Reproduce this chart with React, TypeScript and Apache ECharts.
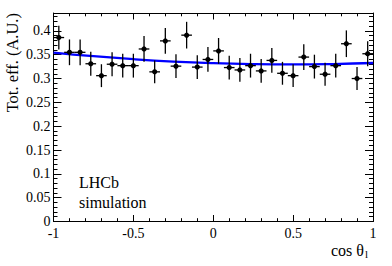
import React, { useEffect, useRef } from "react";
import * as echarts from "echarts";

// Bin centres of cos(theta_l) (30 bins between -1 and 1)
const binCenters = [
  -0.9667, -0.9, -0.8333, -0.7667, -0.7, -0.6333, -0.5667, -0.5, -0.4333, -0.3667,
  -0.3, -0.2333, -0.1667, -0.1, -0.0333, 0.0333, 0.1, 0.1667, 0.2333, 0.3,
  0.3667, 0.4333, 0.5, 0.5667, 0.6333, 0.7, 0.7667, 0.8333, 0.9, 0.9667,
];
const binHalfWidth = 0.0333;
// Total efficiency values
const effValues = [
  0.386, 0.355, 0.355, 0.331, 0.306, 0.330, 0.327, 0.327, 0.362, 0.314,
  0.379, 0.326, 0.391, 0.324, 0.340, 0.358, 0.323, 0.318, 0.327, 0.316,
  0.338, 0.311, 0.306, 0.345, 0.325, 0.309, 0.327, 0.373, 0.300, 0.352,
];
// Uncertainties
const effErrors = [
  0.025, 0.027, 0.027, 0.025, 0.024, 0.025, 0.025, 0.025, 0.027, 0.024,
  0.027, 0.025, 0.028, 0.025, 0.026, 0.027, 0.025, 0.025, 0.025, 0.025,
  0.026, 0.024, 0.024, 0.027, 0.025, 0.024, 0.025, 0.028, 0.024, 0.026,
];
// Fit curve
const fitX = [-1, -0.75, -0.5, -0.25, 0, 0.25, 0.5, 0.75, 1];
const fitY = [0.3545, 0.3468, 0.3405, 0.3356, 0.3322, 0.3302, 0.3295, 0.3304, 0.3326];

const xTicks = [-1, -0.5, 0, 0.5, 1];
const yTicks = [0, 0.05, 0.1, 0.15, 0.2, 0.25, 0.3, 0.35, 0.4];

const FONT = "Liberation Serif, Times New Roman, serif";

export default function App() {
  const ref = useRef<HTMLDivElement>(null);
  useEffect(() => {
    if (!ref.current) return;
    const chart = echarts.init(ref.current, undefined, { renderer: "svg" });
    const axisLine = { show: true, onZero: false, lineStyle: { color: "#000", width: 1 } };
    const yMax = 0.4375;
    const yMajor = (position: "left" | "right", labels: boolean) => ({
      type: "value",
      position,
      min: 0,
      max: yMax,
      interval: 0.05,
      axisLine,
      axisTick: { show: true, inside: true, length: 8, lineStyle: { color: "#000", width: 1 } },
      axisLabel: {
        show: labels,
        margin: 3,
        fontFamily: FONT,
        fontSize: 14,
        color: "#000",
        showMaxLabel: false,
        formatter: (v: number) => {
          const t = yTicks.find((k) => Math.abs(k - v) < 1e-6);
          return t === undefined ? "" : String(t);
        },
      },
      splitLine: { show: false },
    });
    const yMinor = (position: "left" | "right") => ({
      type: "value",
      position,
      min: 0,
      max: yMax,
      interval: 0.01,
      axisLine: { show: false, onZero: false },
      axisTick: { show: true, inside: true, length: 4, lineStyle: { color: "#000", width: 1 } },
      axisLabel: { show: false },
      splitLine: { show: false },
    });
    const xAx = (position: "bottom" | "top", labels: boolean) => ({
      type: "value",
      position,
      min: -1,
      max: 1,
      interval: 0.5,
      axisLine,
      axisTick: { show: true, inside: true, length: 6.5, lineStyle: { color: "#000", width: 1 } },
      minorTick: { show: true, splitNumber: 5, length: 3.3, lineStyle: { color: "#000", width: 1 } },
      axisLabel: {
        show: labels,
        margin: 5,
        fontFamily: FONT,
        fontSize: 14,
        color: "#000",
        formatter: (v: number) => {
          const t = xTicks.find((k) => Math.abs(k - v) < 1e-6);
          return t === undefined ? "" : String(t);
        },
      },
      splitLine: { show: false },
      minorSplitLine: { show: false },
    });

    const points = binCenters.map((x, i) => [x, effValues[i], effErrors[i]]);
    const fit = fitX.map((x, i) => [x, fitY[i]]);

    chart.setOption({
      animation: false,
      backgroundColor: "#fff",
      grid: { left: 53.5, right: 19, top: 13, bottom: 44.5, containLabel: false },
      xAxis: [xAx("bottom", true), xAx("top", false)],
      yAxis: [yMajor("left", true), yMajor("right", false), yMinor("left"), yMinor("right")],
      series: [
        {
          type: "line",
          data: fit,
          smooth: true,
          showSymbol: false,
          symbol: "none",
          xAxisIndex: 0,
          yAxisIndex: 0,
          lineStyle: { color: "#0000ff", width: 2.3 },
          z: 2,
        },
        {
          type: "custom",
          data: points,
          xAxisIndex: 0,
          yAxisIndex: 0,
          encode: { x: 0, y: 1 },
          z: 3,
          renderItem: (params: any, api: any) => {
            const x = api.value(0);
            const y = api.value(1);
            const e = api.value(2);
            const c = api.coord([x, y]);
            const top = api.coord([x, y + e]);
            const bot = api.coord([x, y - e]);
            const l = api.coord([Math.max(-1, x - binHalfWidth), y]);
            const r = api.coord([Math.min(1, x + binHalfWidth), y]);
            const st = { stroke: "#000", lineWidth: 1.3 };
            return {
              type: "group",
              children: [
                { type: "line", shape: { x1: c[0], y1: top[1], x2: c[0], y2: bot[1] }, style: st },
                { type: "line", shape: { x1: l[0], y1: c[1], x2: r[0], y2: c[1] }, style: st },
                { type: "circle", shape: { cx: c[0], cy: c[1], r: 2.6 }, style: { fill: "#000" } },
              ],
            };
          },
        },
      ],
      graphic: [
        {
          type: "text",
          left: 79,
          top: 174,
          style: { text: "LHCb", fontFamily: FONT, fontSize: 16, fill: "#000" },
        },
        {
          type: "text",
          left: 79,
          top: 194,
          style: { text: "simulation", fontFamily: FONT, fontSize: 16, fill: "#000" },
        },
        {
          type: "text",
          x: 12,
          y: 13,
          rotation: Math.PI / 2,
          style: {
            text: "Tot. eff. (A.U.)",
            fontFamily: FONT,
            fontSize: 16.5,
            fill: "#000",
            align: "right",
            verticalAlign: "middle",
          },
        },
        {
          type: "text",
          x: 364,
          y: 250,
          style: {
            text: "cos θ",
            fontFamily: FONT,
            fontSize: 16,
            fill: "#000",
            align: "right",
            verticalAlign: "middle",
          },
        },
        {
          type: "text",
          x: 365,
          y: 253.5,
          style: {
            text: "l",
            fontFamily: FONT,
            fontSize: 11,
            fill: "#000",
            align: "left",
            verticalAlign: "middle",
          },
        },
      ],
    });
    return () => chart.dispose();
  }, []);
  return (
    <div
      ref={ref}
      style={{ position: "fixed", left: 0, top: 0, width: 392, height: 266, background: "#fff" }}
    />
  );
}
